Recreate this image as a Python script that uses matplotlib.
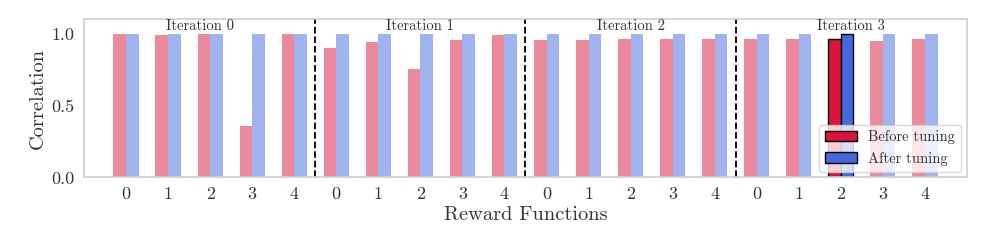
import numpy as np
import matplotlib
matplotlib.use("Agg")
import matplotlib.pyplot as plt
from matplotlib.patches import Patch

plt.rcParams['font.family'] = 'serif'
plt.rcParams['font.serif'] = ['cmr10']
plt.rcParams['mathtext.fontset'] = 'cm'
plt.rcParams['axes.formatter.use_mathtext'] = True

iterations = ["Iteration 0", "Iteration 1", "Iteration 2", "Iteration 3"]
reward_labels = ["0", "1", "2", "3", "4"]
before = [0.995, 0.993, 1.0, 0.36, 0.998,
          0.90, 0.94, 0.752, 0.956, 0.988,
          0.958, 0.958, 0.96, 0.96, 0.96,
          0.963, 0.965, 0.963, 0.951, 0.96]
after = [1.0, 1.0, 1.0, 1.0, 1.0,
         1.0, 1.0, 1.0, 1.0, 0.995,
         1.0, 1.0, 1.0, 1.0, 1.0,
         1.0, 1.0, 1.0, 1.0, 1.0]
highlight = 17

fig, ax = plt.subplots(figsize=(9.87, 2.47), dpi=100)
fig.subplots_adjust(left=0.0851, right=0.9797, bottom=0.282, top=0.922)

x = np.arange(len(before))
w = 0.3
for i in x:
    if i == highlight:
        ax.bar(i - w/2, before[i], w, color='crimson', edgecolor='black', lw=1)
        ax.bar(i + w/2, after[i], w, color='royalblue', edgecolor='black', lw=1)
    else:
        ax.bar(i - w/2, before[i], w, color='crimson', alpha=0.5, lw=0)
        ax.bar(i + w/2, after[i], w, color='royalblue', alpha=0.5, lw=0)

ax.set_xlim(-1, 20)
ax.set_ylim(0, 1.1)
bounds = [-1, 4.5, 9.5, 14.5, 20]
for b in bounds[1:-1]:
    ax.axvline(b, color='black', ls='--', lw=1.3)
for k, name in enumerate(iterations):
    ax.text((bounds[k] + bounds[k+1]) / 2, 1.05, name, ha='center', va='center',
            fontsize=10.5, color='#333333')

ax.set_xticks(x)
ax.set_xticklabels(reward_labels * len(iterations))
ax.set_yticks([0.0, 0.5, 1.0])
ax.set_yticklabels(["0.0", "0.5", "1.0"])
ax.tick_params(length=0, labelsize=13, labelcolor='#333333', pad=7)
for s in ax.spines.values():
    s.set_color('#d0d0d0')
    s.set_linewidth(1.2)
ax.set_xlabel("Reward Functions", fontsize=14.7, color='#333333', labelpad=3)
ax.set_ylabel("Correlation", fontsize=14.7, color='#333333', labelpad=3)

handles = [Patch(facecolor='crimson', edgecolor='black', label='Before tuning'),
           Patch(facecolor='royalblue', edgecolor='black', label='After tuning')]
leg = ax.legend(handles=handles, loc='lower right', fontsize=10.5, framealpha=0.8,
                edgecolor='#d0d0d0', borderaxespad=0.4, handlelength=2.2)
for t in leg.get_texts():
    t.set_color('#333333')

plt.savefig('out.png', dpi=100)
